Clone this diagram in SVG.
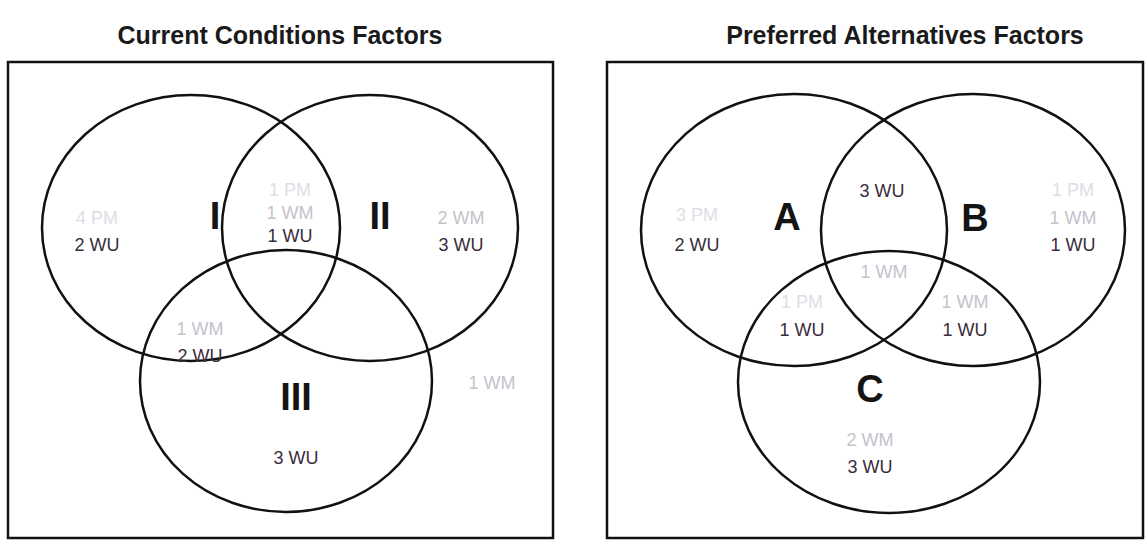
<svg xmlns="http://www.w3.org/2000/svg" width="1146" height="541" viewBox="0 0 1146 541">
<style>
.title{font-family:"Liberation Sans",Arial,sans-serif;font-weight:bold;font-size:25px;fill:#1a1a1a;text-anchor:middle}
.box{fill:none;stroke:#111;stroke-width:2.5}
.set{fill:none;stroke:#111;stroke-width:2.5}
.t{font-family:"Liberation Sans",Arial,sans-serif;font-size:18px;text-anchor:middle}
.pm{fill:#dedde6}
.wm{fill:#c6c2cc}
.wu{fill:#3a2c3c}
.big{font-family:"Liberation Sans",Arial,sans-serif;font-weight:bold;font-size:38px;fill:#141414;text-anchor:middle}
</style>
<rect width="1146" height="541" fill="#fff"/>
<text class="title" x="280" y="44">Current Conditions Factors</text>
<text class="title" x="905" y="44">Preferred Alternatives Factors</text>
<g id="panel-left">
<rect class="box" x="8" y="62" width="545" height="476"/>
<g id="set-I"><ellipse class="set" cx="191" cy="228" rx="149" ry="133"/><text class="big" x="215" y="229">I</text></g>
<g id="set-II"><ellipse class="set" cx="370" cy="228" rx="148" ry="133"/><text class="big" x="380" y="229">II</text></g>
<g id="set-III"><ellipse class="set" cx="286" cy="381" rx="146" ry="131"/><text class="big" x="296" y="410">III</text></g>
<g id="left-labels">
<text class="t pm" x="97" y="224">4 PM</text>
<text class="t wu" x="97" y="251">2 WU</text>
<text class="t pm" x="290" y="196">1 PM</text>
<text class="t wm" x="290" y="219">1 WM</text>
<text class="t wu" x="290" y="242">1 WU</text>
<text class="t wm" x="461" y="224">2 WM</text>
<text class="t wu" x="461" y="251">3 WU</text>
<text class="t wm" x="200" y="335">1 WM</text>
<text class="t wu" x="200" y="362">2 WU</text>
<text class="t wu" x="296" y="464">3 WU</text>
<text class="t wm" x="492" y="389">1 WM</text>
</g>
</g>
<g id="panel-right">
<rect class="box" x="607" y="62" width="536" height="476"/>
<g id="set-A"><ellipse class="set" cx="794" cy="230" rx="153" ry="136"/><text class="big" x="787" y="230">A</text></g>
<g id="set-B"><ellipse class="set" cx="973" cy="230" rx="152" ry="136"/><text class="big" x="975" y="231">B</text></g>
<g id="set-C"><ellipse class="set" cx="889" cy="382" rx="151" ry="131"/><text class="big" x="870" y="402">C</text></g>
<g id="right-labels">
<text class="t pm" x="697" y="221">3 PM</text>
<text class="t wu" x="697" y="251">2 WU</text>
<text class="t wu" x="882" y="197">3 WU</text>
<text class="t pm" x="1073" y="196">1 PM</text>
<text class="t wm" x="1073" y="224">1 WM</text>
<text class="t wu" x="1073" y="251">1 WU</text>
<text class="t wm" x="884" y="278">1 WM</text>
<text class="t pm" x="802" y="308">1 PM</text>
<text class="t wu" x="802" y="336">1 WU</text>
<text class="t wm" x="965" y="308">1 WM</text>
<text class="t wu" x="965" y="336">1 WU</text>
<text class="t wm" x="870" y="446">2 WM</text>
<text class="t wu" x="870" y="473">3 WU</text>
</g>
</g>
</svg>
